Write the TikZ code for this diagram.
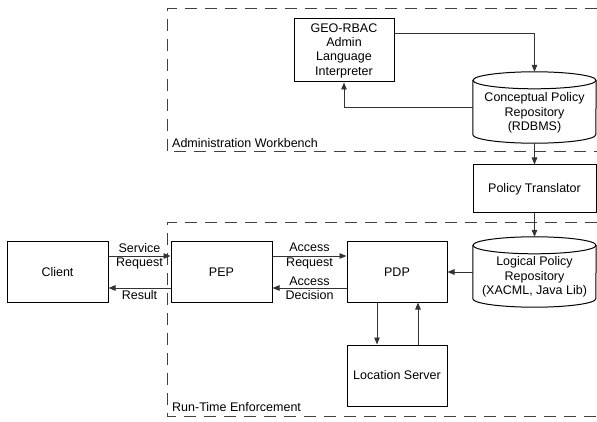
\documentclass[tikz,border=0pt]{standalone}
\usepackage{fontspec}
\setmainfont{Liberation Sans}
\usetikzlibrary{arrows.meta,calc}

% outline of a vertical drum around an (undrawn) rectangular node
\newcommand\drumoutline[2]{%
  \draw[boxline] ($(#1.north)+(0,8.5)$) ellipse [x radius=#2, y radius=8.5pt];
  \draw[boxline] ($(#1.north west)+(0,8.5)$) -- ($(#1.south west)+(0,-8.5)$)
    arc[start angle=180, end angle=360, x radius=#2, y radius=8.5pt]
    -- ($(#1.north east)+(0,8.5)$);
}

\begin{document}
\begin{tikzpicture}[x=1pt,y=-1pt,
  every node/.style={font=\fontsize{12.5}{14.3}\selectfont, align=center, inner sep=0pt},
  boxline/.style={draw=black, line width=1pt},
  box/.style={boxline, minimum width=101pt, minimum height=60pt},
  drum/.style={minimum width=123pt},
  link/.style={draw=black!80, line width=0.9pt, -{Triangle[length=7pt,width=5.5pt]}},
  region/.style={draw=black!75, line width=1pt, dash pattern=on 12pt off 8pt},
  regionlabel/.style={anchor=west}]
\useasboundingbox (0,0) rectangle (597,422);

% dashed regions (open on the right)
\draw[region] (597,9) -- (167,9) -- (167,152) -- (597,152);
\draw[region] (597,223) -- (167,223) -- (167,416) -- (597,416);
\node[regionlabel] (adminlbl) at (172,143) {Administration Workbench};
\node[regionlabel] (rtlbl) at (172,407) {Run-Time Enforcement};

% administration side
\node[box, minimum width=100pt, minimum height=63pt] (geo) at (344,50.5)
  {GEO-RBAC\\Admin\\Language\\Interpreter};
\node[drum, minimum height=71pt] (crep) at (534.5,107.5) {};
\drumoutline{crep}{61.5pt}
\node (creptext) at (534.5,113) {Conceptual Policy\\Repository\\(RDBMS)};

\node[box, minimum width=123pt, minimum height=48pt] (trans) at (534.5,189) {Policy Translator};

% run-time side
\node[drum, minimum height=70pt] (lrep) at (534.5,272) {};
\drumoutline{lrep}{61.5pt}
\node (lreptext) at (534.5,277) {Logical Policy\\Repository\\(XACML, Java Lib)};

\node[box] (client) at (57.5,272) {Client};
\node[box] (pep) at (221.5,272) {PEP};
\node[box, minimum width=100pt] (pdp) at (397,272) {PDP};
\node[box, minimum width=100pt, minimum height=61pt] (loc) at (397,375.5) {Location Server};

% connectors
\draw[link] ([yshift=17.5pt]geo.east) -| (crep.north);
\draw[link] (crep.west) -| (geo.south);
\draw[link] (crep.south) -- (trans.north);
\draw[link] (trans.south) -- (lrep.north);
\draw[link] (lrep.west) -- (pdp.east);

\draw[link] ([yshift=16pt]client.east) -- ([yshift=16pt]pep.west)
  node[midway] {Service\\Request};
\draw[link] ([yshift=-16pt]pep.west) -- ([yshift=-16pt]client.east)
  node[midway, below=1.5pt] {Result};
\draw[link] ([yshift=16pt]pep.east) -- ([yshift=16pt]pdp.west)
  node[midway] {Access\\Request};
\draw[link] ([yshift=-16pt]pdp.west) -- ([yshift=-16pt]pep.east)
  node[midway] {Access\\Decision};

\draw[link] ([xshift=-20pt]pdp.south) -- ([xshift=-20pt]loc.north);
\draw[link] ([xshift=21pt]loc.north) -- ([xshift=21pt]pdp.south);
\end{tikzpicture}
\end{document}
